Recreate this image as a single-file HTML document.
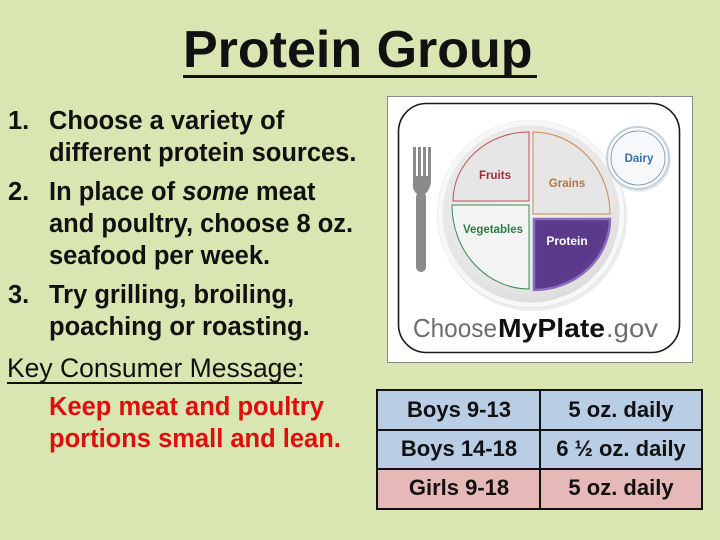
<!DOCTYPE html>
<html>
<head>
<meta charset="utf-8">
<style>
  html,body{margin:0;padding:0;}
  body{width:720px;height:540px;background:#dae6b1;position:relative;overflow:hidden;font-family:"Liberation Sans",Arial,sans-serif;}
  .t{position:absolute;white-space:nowrap;line-height:1;color:#111;}
  .b{font-weight:bold;font-size:25.5px;}
  .red{color:#e00d0d;}
</style>
</head>
<body>
<div class="t" style="left:183px;top:24px;font-size:52px;font-weight:bold;">Protein Group</div>
<div style="position:absolute;left:183px;top:75px;width:354px;height:3px;background:#111;"></div>

<div class="t b" style="left:8px;top:109px;">1.</div>
<div class="t b" style="left:49px;top:109px;">Choose a variety of</div>
<div class="t b" style="left:49px;top:141px;">different protein sources.</div>
<div class="t b" style="left:8px;top:180px;">2.</div>
<div class="t b" style="left:49px;top:180px;">In place of <i>some</i> meat</div>
<div class="t b" style="left:49px;top:212px;">and poultry, choose 8 oz.</div>
<div class="t b" style="left:49px;top:244px;">seafood per week.</div>
<div class="t b" style="left:8px;top:283px;">3.</div>
<div class="t b" style="left:49px;top:283px;">Try grilling, broiling,</div>
<div class="t b" style="left:49px;top:315px;">poaching or roasting.</div>
<div class="t" style="left:7px;top:355px;font-size:26.5px;">Key Consumer Message:</div>
<div style="position:absolute;left:7px;top:382px;width:295px;height:2px;background:#111;"></div>
<div class="t b red" style="left:49px;top:395px;">Keep meat and poultry</div>
<div class="t b red" style="left:49px;top:427px;">portions small and lean.</div>

<svg width="720" height="540" style="position:absolute;left:0;top:0;" xmlns="http://www.w3.org/2000/svg">
  <defs>
    <radialGradient id="pg" cx="45%" cy="40%" r="60%">
      <stop offset="0" stop-color="#f0f0f0"/>
      <stop offset="0.8" stop-color="#e6e6e6"/>
      <stop offset="1" stop-color="#dadada"/>
    </radialGradient>
  </defs>
  <!-- image frame -->
  <rect x="387.5" y="96.5" width="305" height="266" fill="#fff" stroke="#8a8a8a" stroke-width="1"/>
  <rect x="398.5" y="103.5" width="281" height="249" rx="28" fill="#fff" stroke="#1a1a1a" stroke-width="1.6"/>
  <!-- plate -->
  <circle cx="533" cy="217" r="94" fill="#dcdcdc" opacity="0.5"/>
  <circle cx="531" cy="214" r="94" fill="url(#pg)"/>
  <circle cx="531" cy="214" r="91" fill="none" stroke="#f7f7f7" stroke-width="5"/>
  <!-- fruits -->
  <path d="M529,132 L529,201 L453,201 A76,69 0 0 1 529,132 Z" fill="#e6e6e6" stroke="#c0505a" stroke-width="1"/>
  <text x="495" y="179" font-size="11.5" font-weight="bold" fill="#9e2b3b" text-anchor="middle">Fruits</text>
  <!-- grains -->
  <path d="M533,132 L533,214 L610,214 A77,82 0 0 0 533,132 Z" fill="#e6e6e6" stroke="#c98a4e" stroke-width="1"/>
  <text x="567" y="187" font-size="11.5" font-weight="bold" fill="#b5763a" text-anchor="middle">Grains</text>
  <!-- vegetables -->
  <path d="M452,205 L529,205 L529,289 A77,84 0 0 1 452,205 Z" fill="#f4f4f4" stroke="#3a8a52" stroke-width="1"/>
  <text x="493" y="233" font-size="11.5" font-weight="bold" fill="#2b7d46" text-anchor="middle">Vegetables</text>
  <!-- protein -->
  <path d="M534,219 L610,219 A76,71 0 0 1 534,290 Z" fill="#5d3c8e" stroke="#8c6cc0" stroke-width="2.5"/>
  <path d="M538,223 L602,223 A68,62 0 0 1 538,285 Z" fill="#5b3a8b"/>
  <text x="567" y="245" font-size="12" font-weight="bold" fill="#fff" text-anchor="middle">Protein</text>
  <!-- dairy -->
  <circle cx="639" cy="160" r="32" fill="#d8d8d8" opacity="0.5"/>
  <circle cx="638" cy="158" r="31" fill="#f6f8fa" stroke="#c2d0da" stroke-width="2"/>
  <circle cx="638" cy="158" r="27" fill="none" stroke="#6f93b0" stroke-width="0.8"/>
  <text x="639" y="162" font-size="11.5" font-weight="bold" fill="#3a6fa8" text-anchor="middle">Dairy</text>
  <!-- fork -->
  <g fill="#8a8a8a">
    <rect x="413" y="147" width="3" height="32"/>
    <rect x="418" y="147" width="3" height="32"/>
    <rect x="423" y="147" width="3" height="32"/>
    <rect x="428" y="147" width="3" height="32"/>
    <path d="M413,176 L431,176 L431,182 Q430,190 425,194 L417,194 Q412,190 413,182 Z"/>
    <rect x="416" y="192" width="10" height="80" rx="5"/>
  </g>
  <!-- logo text -->
  <text y="337" font-size="26"><tspan x="413" fill="#6e6e6e" textLength="84" lengthAdjust="spacingAndGlyphs">Choose</tspan><tspan x="498" fill="#111" font-weight="bold" textLength="107" lengthAdjust="spacingAndGlyphs">MyPlate</tspan><tspan x="606" fill="#6e6e6e" textLength="52" lengthAdjust="spacingAndGlyphs">.gov</tspan></text>

  <!-- table -->
  <rect x="377" y="390" width="325" height="40" fill="#b9cde5"/>
  <rect x="377" y="430" width="325" height="39" fill="#b9cde5"/>
  <rect x="377" y="469" width="325" height="40" fill="#e6b9b8"/>
  <g stroke="#111" stroke-width="2" fill="none">
    <rect x="377" y="390" width="325" height="119"/>
    <line x1="377" y1="430" x2="702" y2="430"/>
    <line x1="377" y1="469" x2="702" y2="469"/>
    <line x1="540" y1="390" x2="540" y2="509"/>
  </g>
  <g font-size="22" font-weight="bold" fill="#111" text-anchor="middle">
    <text x="459" y="417">Boys 9-13</text>
    <text x="621" y="417">5 oz. daily</text>
    <text x="459" y="456">Boys 14-18</text>
    <text x="621" y="456">6 ½ oz. daily</text>
    <text x="459" y="495">Girls 9-18</text>
    <text x="621" y="495">5 oz. daily</text>
  </g>
</svg>
</body>
</html>
